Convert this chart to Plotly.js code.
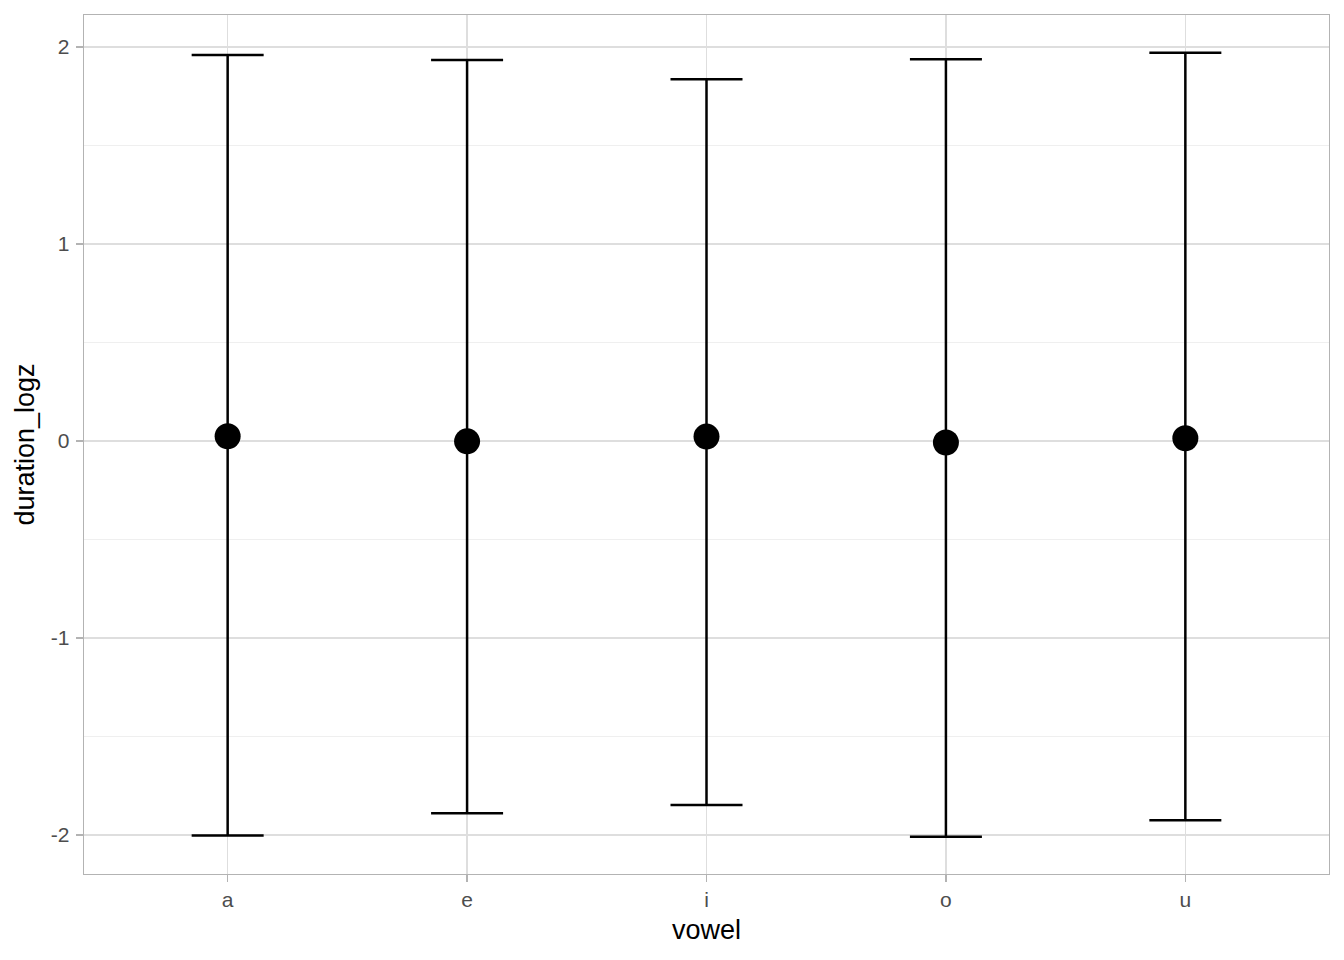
<!DOCTYPE html>
<html>
<head>
<meta charset="utf-8">
<script src="https://cdn.plot.ly/plotly-3.0.1.min.js"></script>
<style>html,body{margin:0;padding:0;background:#fff;}#chart{width:1344px;height:960px;}</style>
</head>
<body>
<div id="chart"></div>
<script>
const vowels = ["a", "e", "i", "o", "u"];
const meanVals = [0.024, -0.002, 0.022, -0.008, 0.014];
const lowerVals = [-2.002, -1.890, -1.848, -2.009, -1.925];
const upperVals = [1.959, 1.934, 1.836, 1.937, 1.970];
const yTickVals = [-2, -1, 0, 1, 2];
const yTickText = ["-2", "-1", "0", "1", "2"];

const plusErr = upperVals.map((u, i) => u - meanVals[i]);
const minusErr = meanVals.map((m, i) => m - lowerVals[i]);

const trace = {
  type: "scatter",
  mode: "markers",
  x: vowels,
  y: meanVals,
  marker: {color: "#000000", size: 26},
  error_y: {
    type: "data",
    symmetric: false,
    array: plusErr,
    arrayminus: minusErr,
    color: "#000000",
    thickness: 2.5,
    width: 36
  },
  hoverinfo: "x+y",
  showlegend: false
};

const layout = {
  width: 1344,
  height: 960,
  margin: {l: 84, r: 15, t: 15, b: 86},
  paper_bgcolor: "#ffffff",
  plot_bgcolor: "#ffffff",
  font: {family: "Liberation Sans, Arial, sans-serif", color: "#4D4D4D"},
  xaxis: {
    type: "category",
    range: [-0.6, 4.6],
    showgrid: true,
    gridcolor: "#DEDEDE",
    gridwidth: 1.4,
    zeroline: false,
    showline: true,
    mirror: true,
    linecolor: "#B3B3B3",
    linewidth: 1.4,
    ticks: "outside",
    ticklen: 7,
    tickcolor: "#B3B3B3",
    tickwidth: 1.4,
    ticklabelstandoff: -1,
    tickfont: {size: 21, color: "#4D4D4D"},
    title: {text: "vowel", font: {size: 27, color: "#000000"}, standoff: 10}
  },
  yaxis: {
    range: [-2.198, 2.162],
    tickvals: yTickVals,
    ticktext: yTickText,
    showgrid: true,
    gridcolor: "#DEDEDE",
    gridwidth: 1.4,
    minor: {dtick: 0.5, showgrid: true, gridcolor: "#EBEBEB", gridwidth: 0.8, ticks: ""},
    zeroline: false,
    showline: true,
    mirror: true,
    linecolor: "#B3B3B3",
    linewidth: 1.4,
    ticks: "outside",
    ticklen: 7,
    tickcolor: "#B3B3B3",
    tickwidth: 1.4,
    ticklabelstandoff: 2,
    tickfont: {size: 21, color: "#4D4D4D"},
    title: {text: "duration_logz", font: {size: 27, color: "#000000"}, standoff: 8}
  }
};

Plotly.newPlot("chart", [trace], layout, {displayModeBar: false, staticPlot: true});
</script>
</body>
</html>
